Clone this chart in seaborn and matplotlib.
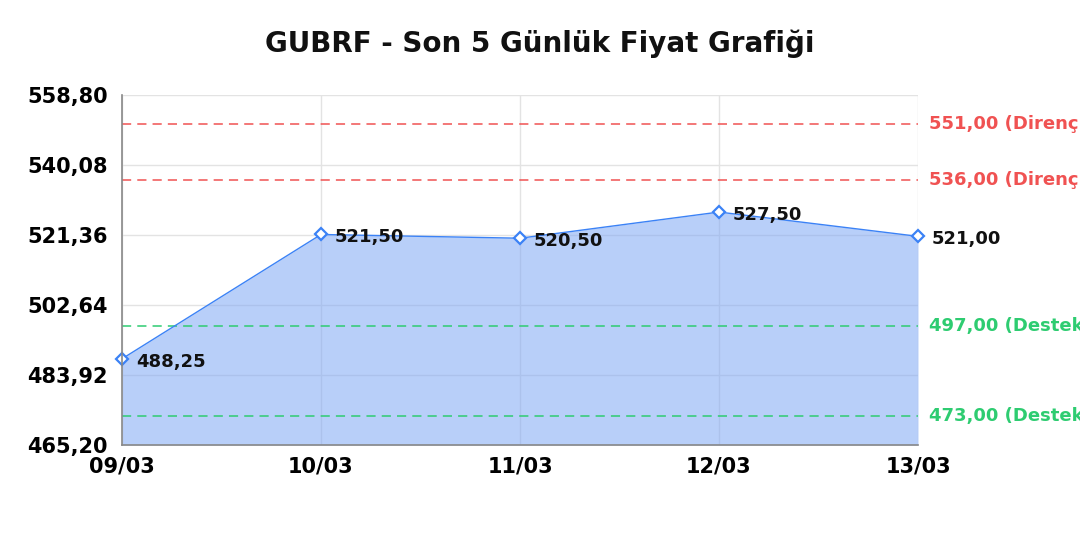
import matplotlib
matplotlib.use("Agg")
from matplotlib import pyplot as plt
import seaborn as sns
import pandas as pd
import numpy as np

# price data
dates = ["09/03", "10/03", "11/03", "12/03", "13/03"]
prices = [488.25, 521.50, 520.50, 527.50, 521.00]
price_labels = ["488,25", "521,50", "520,50", "527,50", "521,00"]

resistance = [551.00, 536.00]
support = [497.00, 473.00]

y_ticks = [465.20, 483.92, 502.64, 521.36, 540.08, 558.80]
y_tick_labels = ["465,20", "483,92", "502,64", "521,36", "540,08", "558,80"]

sns.set_theme(style="whitegrid")
plt.rcParams['font.family'] = ['DejaVu Sans']

df = pd.DataFrame({"idx": range(len(dates)), "price": prices})

fig = plt.figure(figsize=(10.8, 5.4), dpi=100)
ax = fig.add_axes([122 / 1080, 1 - 445 / 540, (918 - 122) / 1080, (445 - 95) / 540])

line_col = "#3b82f6"
ax.fill_between(df["idx"], df["price"], y_ticks[0], color="#7fa8f5", alpha=0.55, zorder=3, linewidth=0)
sns.lineplot(data=df, x="idx", y="price", ax=ax, color=line_col, linewidth=1.0,
             marker="D", markersize=6, markerfacecolor="white", markeredgecolor=line_col,
             markeredgewidth=1.6, zorder=5, clip_on=False)

for i, (v, lab) in enumerate(zip(prices, price_labels)):
    ax.annotate(lab, (i, v), xytext=(10, -2), textcoords="offset points",
                ha="left", va="center", fontsize=13, fontweight="bold", color="#111111", zorder=6)

for r in resistance:
    ax.axhline(r, color="#f05252", linestyle=(0, (6, 4)), linewidth=1.1, zorder=4)
    ax.text(1.014, r, f"{r:.2f}".replace(".", ",") + " (Direnç)", transform=ax.get_yaxis_transform(),
            color="#f05252", fontsize=13, fontweight="bold", va="center", ha="left", clip_on=False)
for s in support:
    ax.axhline(s, color="#2ecc71", linestyle=(0, (6, 4)), linewidth=1.1, zorder=4)
    ax.text(1.014, s, f"{s:.2f}".replace(".", ",") + " (Destek)", transform=ax.get_yaxis_transform(),
            color="#2ecc71", fontsize=13, fontweight="bold", va="center", ha="left", clip_on=False)

ax.set_xlim(0, len(dates) - 1)
ax.set_ylim(y_ticks[0], y_ticks[-1])
ax.set_xticks(range(len(dates)))
ax.set_xticklabels(dates, fontsize=15, fontweight="bold", color="black")
ax.set_yticks(y_ticks)
ax.set_yticklabels(y_tick_labels, fontsize=15, fontweight="bold", color="black")
ax.tick_params(axis="y", length=0, pad=10)
ax.tick_params(axis="x", length=0, pad=8)
ax.set_xlabel("")
ax.set_ylabel("")

ax.grid(True, color="#e3e3e3", linewidth=1.0, zorder=1)
ax.set_axisbelow(True)
ax.set_facecolor("white")
for side in ["top", "right"]:
    ax.spines[side].set_visible(False)
for side in ["left", "bottom"]:
    ax.spines[side].set_color("#888888")
    ax.spines[side].set_linewidth(1.2)
    ax.spines[side].set_zorder(7)

fig.suptitle("GUBRF - Son 5 Günlük Fiyat Grafiği", x=540 / 1080, y=1 - 30 / 540,
             fontsize=20, fontweight="bold", color="#111111")

fig.savefig("out.png", dpi=100)
